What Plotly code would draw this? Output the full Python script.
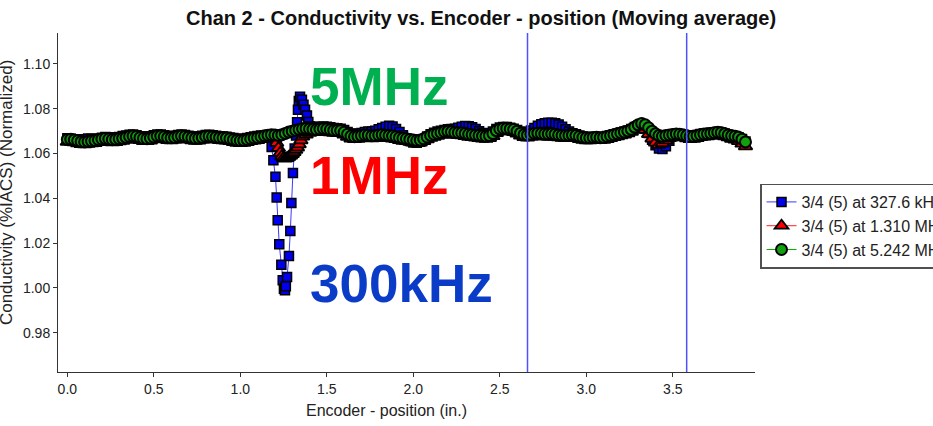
import plotly.graph_objects as go

# ---------------- data ----------------
x_step = 0.02  # encoder sampling of the band values below (in.)

green_band = [
    1.0663, 1.0664, 1.0661, 1.0657, 1.0653, 1.0652, 1.0654, 1.0656, 1.0658, 1.0662,
    1.0665, 1.0667, 1.0665, 1.0662, 1.0663, 1.0666, 1.0668, 1.0672, 1.0676, 1.0678,
    1.0676, 1.0671, 1.0667, 1.0666, 1.0669, 1.0674, 1.0678, 1.0678, 1.0675, 1.0671,
    1.0670, 1.0672, 1.0676, 1.0678, 1.0676, 1.0673, 1.0670, 1.0668, 1.0669, 1.0672,
    1.0676, 1.0677, 1.0675, 1.0673, 1.0671, 1.0670, 1.0669, 1.0666, 1.0662, 1.0659,
    1.0658, 1.0659, 1.0662, 1.0666, 1.0669, 1.0671, 1.0675, 1.0679, 1.0682, 1.0684,
    1.0683, 1.0681, 1.0684, 1.0690, 1.0696, 1.0700, 1.0704, 1.0708, 1.0711, 1.0712,
    1.0710, 1.0708, 1.0707, 1.0709, 1.0711, 1.0709, 1.0706, 1.0703, 1.0703, 1.0702,
    1.0695, 1.0686, 1.0678, 1.0675, 1.0677, 1.0680, 1.0683, 1.0682, 1.0679, 1.0680,
    1.0683, 1.0684, 1.0682, 1.0680, 1.0678, 1.0675, 1.0671, 1.0668, 1.0666, 1.0663,
    1.0660, 1.0658, 1.0660, 1.0666, 1.0674, 1.0681, 1.0686, 1.0690, 1.0694, 1.0698,
    1.0699, 1.0697, 1.0694, 1.0693, 1.0692, 1.0689, 1.0686, 1.0684, 1.0682, 1.0680,
    1.0678, 1.0677, 1.0680, 1.0689, 1.0702, 1.0710, 1.0713, 1.0712, 1.0710, 1.0707,
    1.0700, 1.0691, 1.0684, 1.0682, 1.0686, 1.0690, 1.0691, 1.0689, 1.0687, 1.0687,
    1.0688, 1.0686, 1.0683, 1.0681, 1.0680, 1.0681, 1.0682, 1.0680, 1.0676, 1.0672,
    1.0670, 1.0670, 1.0672, 1.0673, 1.0671, 1.0672, 1.0676, 1.0680, 1.0684, 1.0688,
    1.0692, 1.0696, 1.0701, 1.0708, 1.0718, 1.0728, 1.0734, 1.0728, 1.0715, 1.0700,
    1.0688, 1.0680, 1.0677, 1.0680, 1.0683, 1.0685, 1.0687, 1.0686, 1.0683, 1.0679,
    1.0676, 1.0677, 1.0680, 1.0684, 1.0687, 1.0688, 1.0690, 1.0693, 1.0695, 1.0693,
    1.0688, 1.0683, 1.0679, 1.0677, 1.0673, 1.0664, 1.0652,
]

red_band = [
    1.0652, 1.0653, 1.0650, 1.0646, 1.0642, 1.0641, 1.0643, 1.0645, 1.0647, 1.0651,
    1.0654, 1.0655, 1.0653, 1.0650, 1.0651, 1.0654, 1.0657, 1.0661, 1.0665, 1.0667,
    1.0665, 1.0660, 1.0656, 1.0655, 1.0658, 1.0663, 1.0667, 1.0667, 1.0664, 1.0660,
    1.0659, 1.0661, 1.0665, 1.0667, 1.0665, 1.0662, 1.0659, 1.0657, 1.0658, 1.0661,
    1.0665, 1.0666, 1.0664, 1.0662, 1.0660, 1.0659, 1.0658, 1.0655, 1.0651, 1.0648,
    1.0647, 1.0648, 1.0651, 1.0655, 1.0658, 1.0660, 1.0664, 1.0668, 1.0671, 1.0672,
    1.0676, 1.0674, 1.0677, 1.0683, 1.0689, 1.0693, 1.0697, 1.0700, 1.0700, 1.0684,
    1.0692, 1.0696, 1.0696, 1.0698, 1.0700, 1.0698, 1.0695, 1.0692, 1.0692, 1.0691,
    1.0684, 1.0675, 1.0667, 1.0664, 1.0666, 1.0669, 1.0672, 1.0671, 1.0668, 1.0669,
    1.0672, 1.0673, 1.0671, 1.0669, 1.0667, 1.0664, 1.0660, 1.0657, 1.0655, 1.0652,
    1.0649, 1.0647, 1.0649, 1.0655, 1.0663, 1.0670, 1.0675, 1.0679, 1.0683, 1.0687,
    1.0688, 1.0686, 1.0683, 1.0682, 1.0681, 1.0678, 1.0675, 1.0673, 1.0671, 1.0669,
    1.0667, 1.0666, 1.0669, 1.0678, 1.0691, 1.0699, 1.0702, 1.0701, 1.0699, 1.0696,
    1.0689, 1.0680, 1.0673, 1.0671, 1.0675, 1.0679, 1.0680, 1.0678, 1.0676, 1.0676,
    1.0677, 1.0675, 1.0672, 1.0670, 1.0669, 1.0670, 1.0671, 1.0669, 1.0665, 1.0661,
    1.0659, 1.0659, 1.0661, 1.0662, 1.0660, 1.0661, 1.0665, 1.0669, 1.0673, 1.0677,
    1.0681, 1.0685, 1.0690, 1.0697, 1.0707, 1.0716, 1.0718, 1.0706, 1.0687, 1.0667,
    1.0649, 1.0639, 1.0646, 1.0659, 1.0669, 1.0674, 1.0676, 1.0675, 1.0672, 1.0668,
    1.0665, 1.0666, 1.0669, 1.0673, 1.0676, 1.0677, 1.0679, 1.0682, 1.0684, 1.0682,
    1.0677, 1.0672, 1.0666, 1.0662, 1.0655, 1.0644, 1.0632,
]

blue_band = [
    1.0668, 1.0666, 1.0664, 1.0663, 1.0662, 1.0664, 1.0667, 1.0666, 1.0664, 1.0667,
    1.0671, 1.0674, 1.0673, 1.0669, 1.0670, 1.0674, 1.0678, 1.0681, 1.0684, 1.0685,
    1.0682, 1.0677, 1.0674, 1.0674, 1.0677, 1.0682, 1.0685, 1.0685, 1.0682, 1.0678,
    1.0677, 1.0679, 1.0683, 1.0685, 1.0683, 1.0679, 1.0676, 1.0675, 1.0676, 1.0679,
    1.0683, 1.0684, 1.0682, 1.0679, 1.0677, 1.0676, 1.0675, 1.0672, 1.0669, 1.0666,
    1.0665, 1.0666, 1.0669, 1.0673, 1.0676, 1.0678, 1.0680, 1.0681, 1.0680, 1.0660,
    1.0660, 1.0660, 1.0660, 1.0660, 1.0660, 1.0660, 1.0660, 1.0660, 1.0660, 1.0660,
    1.0722, 1.0720, 1.0718, 1.0719, 1.0721, 1.0720, 1.0717, 1.0714, 1.0713, 1.0711,
    1.0705, 1.0696, 1.0689, 1.0686, 1.0688, 1.0692, 1.0696, 1.0698, 1.0698, 1.0702,
    1.0708, 1.0714, 1.0720, 1.0724, 1.0721, 1.0710, 1.0696, 1.0682, 1.0668, 1.0656,
    1.0649, 1.0648, 1.0653, 1.0664, 1.0676, 1.0686, 1.0693, 1.0698, 1.0702, 1.0705,
    1.0708, 1.0709, 1.0711, 1.0715, 1.0720, 1.0723, 1.0722, 1.0717, 1.0709, 1.0700,
    1.0692, 1.0688, 1.0690, 1.0698, 1.0709, 1.0716, 1.0719, 1.0718, 1.0715, 1.0711,
    1.0705, 1.0698, 1.0694, 1.0695, 1.0703, 1.0714, 1.0724, 1.0731, 1.0735, 1.0737,
    1.0737, 1.0735, 1.0730, 1.0720, 1.0708, 1.0698, 1.0691, 1.0686, 1.0681, 1.0676,
    1.0673, 1.0672, 1.0673, 1.0674, 1.0673, 1.0674, 1.0678, 1.0682, 1.0686, 1.0690,
    1.0694, 1.0698, 1.0703, 1.0710, 1.0718, 1.0724, 1.0724, 1.0712, 1.0692, 1.0662,
    1.0637, 1.0622, 1.0620, 1.0632, 1.0657, 1.0678, 1.0688, 1.0687, 1.0684, 1.0681,
    1.0679, 1.0680, 1.0683, 1.0687, 1.0690, 1.0691, 1.0693, 1.0695, 1.0696, 1.0694,
    1.0689, 1.0684, 1.0680, 1.0678, 1.0673, 1.0665, 1.0654,
]

# detailed readings inside the flaw indication (x in., y normalized)
blue_dip_x = [1.181, 1.191, 1.203, 1.210, 1.216, 1.225, 1.237, 1.245, 1.252, 1.258,
              1.263, 1.270, 1.281, 1.289, 1.295, 1.304, 1.314, 1.322, 1.328, 1.333,
              1.338, 1.345, 1.356, 1.365, 1.374, 1.385, 1.393, 1.400]
blue_dip_y = [1.0629, 1.0570, 1.0496, 1.0404, 1.0302, 1.0195, 1.0104, 1.0034, 0.9997, 0.9990,
              1.0008, 1.0049, 1.0143, 1.0254, 1.0379, 1.0513, 1.0622, 1.0680, 1.0740, 1.0795,
              1.0835, 1.0853, 1.0840, 1.0818, 1.0795, 1.0770, 1.0741, 1.0722]
blue_dip_span = (1.165, 1.405)

red_dip_x = [1.20, 1.21, 1.22, 1.23, 1.24, 1.25, 1.26, 1.27, 1.28, 1.29,
             1.30, 1.31, 1.32, 1.33, 1.34, 1.35, 1.36]
red_dip_y = [1.0668, 1.0648, 1.0625, 1.0603, 1.0588, 1.0580, 1.0577, 1.0580, 1.0585, 1.0591,
             1.0598, 1.0606, 1.0616, 1.0627, 1.0641, 1.0659, 1.0676]
red_dip_span = (1.195, 1.365)

series_names = ["3/4 (5) at 327.6 kHz", "3/4 (5) at 1.310 MHz", "3/4 (5) at 5.242 MHz"]
cursor_positions = [2.66, 3.58]
big_labels = ["5MHz", "1MHz", "300kHz"]
big_label_y = [1.0900, 1.0503, 1.0019]
big_label_x = 1.392
y_ticks = [0.98, 1.00, 1.02, 1.04, 1.06, 1.08, 1.10]
x_ticks = [0.0, 0.5, 1.0, 1.5, 2.0, 2.5, 3.0, 3.5]

# ---------------- build series ----------------
x_grid = [round(i * x_step, 2) for i in range(len(green_band))]


def merge(band, dip_x, dip_y, span):
    pts = [(x, y) for x, y in zip(x_grid, band) if not (span[0] < x < span[1])]
    pts += list(zip(dip_x, dip_y))
    pts.sort(key=lambda p: p[0])
    return [p[0] for p in pts], [p[1] for p in pts]


blue_x, blue_y = merge(blue_band, blue_dip_x, blue_dip_y, blue_dip_span)
red_x, red_y = merge(red_band, red_dip_x, red_dip_y, red_dip_span)
green_x, green_y = x_grid, green_band

FONT = "Liberation Sans, Arial, sans-serif"

fig = go.Figure()
fig.add_trace(go.Scatter(
    x=blue_x, y=blue_y, mode="lines+markers", name=series_names[0],
    line=dict(color="#3a3aff", width=1),
    marker=dict(symbol="square", size=9, color="#0000ee", line=dict(color="black", width=1.5)),
))
fig.add_trace(go.Scatter(
    x=red_x, y=red_y, mode="lines+markers", name=series_names[1],
    line=dict(color="#ff2020", width=1),
    marker=dict(symbol="triangle-up", size=12, color="#ff0000", line=dict(color="black", width=1.8)),
))
fig.add_trace(go.Scatter(
    x=green_x, y=green_y, mode="lines+markers", name=series_names[2],
    line=dict(color="#00b000", width=1),
    marker=dict(symbol="circle", size=11, color="#10a010", line=dict(color="black", width=2)),
))

for cx in cursor_positions:
    fig.add_shape(type="line", xref="x", yref="paper", x0=cx, x1=cx, y0=0, y1=1,
                  line=dict(color="#5050ff", width=1.5))

big_colors = ["#00b050", "#ff0000", "#0a3cc8"]
for txt, yy, col in zip(big_labels, big_label_y, big_colors):
    fig.add_annotation(x=big_label_x, y=yy, xref="x", yref="y", text=f"<b>{txt}</b>",
                       showarrow=False, xanchor="left", yanchor="middle",
                       font=dict(family=FONT, size=53, color=col))

# axis titles
fig.add_annotation(x=0.472, y=-0.115, xref="paper", yref="paper", text="Encoder - position (in.)",
                   showarrow=False, xanchor="center", yanchor="middle",
                   font=dict(family=FONT, size=16, color="#222"))
fig.add_annotation(x=-0.0735, y=0.53, xref="paper", yref="paper",
                   text="Conductivity (%IACS) (Normalized)", textangle=-90,
                   showarrow=False, xanchor="center", yanchor="middle",
                   font=dict(family=FONT, size=17, color="#222"))

fig.update_layout(
    width=933, height=426,
    margin=dict(l=58, r=178, t=33, b=54, autoexpand=False),
    paper_bgcolor="white", plot_bgcolor="white",
    title=dict(text="<b>Chan 2 - Conductivity vs. Encoder - position (Moving average)</b>",
               x=0.5156, xref="container", xanchor="center",
               y=0.957, yref="container", yanchor="middle",
               font=dict(family=FONT, size=20, color="#111")),
    showlegend=True,
    legend=dict(x=1.0072, y=0.556, xanchor="left", yanchor="top",
                bordercolor="#505050", borderwidth=1.5, bgcolor="white",
                font=dict(family=FONT, size=16, color="#222"),
                tracegroupgap=0, itemsizing="trace"),
    font=dict(family=FONT, color="#222"),
)
fig.update_xaxes(range=[-0.054, 3.975], tickvals=x_ticks, ticktext=[f"{v:.1f}" for v in x_ticks],
                 showgrid=False, zeroline=False, showline=True, linecolor="#333", linewidth=1,
                 ticks="outside", ticklen=4, tickcolor="#333",
                 tickfont=dict(family=FONT, size=14, color="#222"))
fig.update_yaxes(range=[0.9625, 1.1138], tickvals=y_ticks, ticktext=[f"{v:.2f}" for v in y_ticks],
                 showgrid=False, zeroline=False, showline=True, linecolor="#333", linewidth=1,
                 ticks="outside", ticklen=4, tickcolor="#333",
                 tickfont=dict(family=FONT, size=14, color="#222"))

fig.write_html("out.html")
